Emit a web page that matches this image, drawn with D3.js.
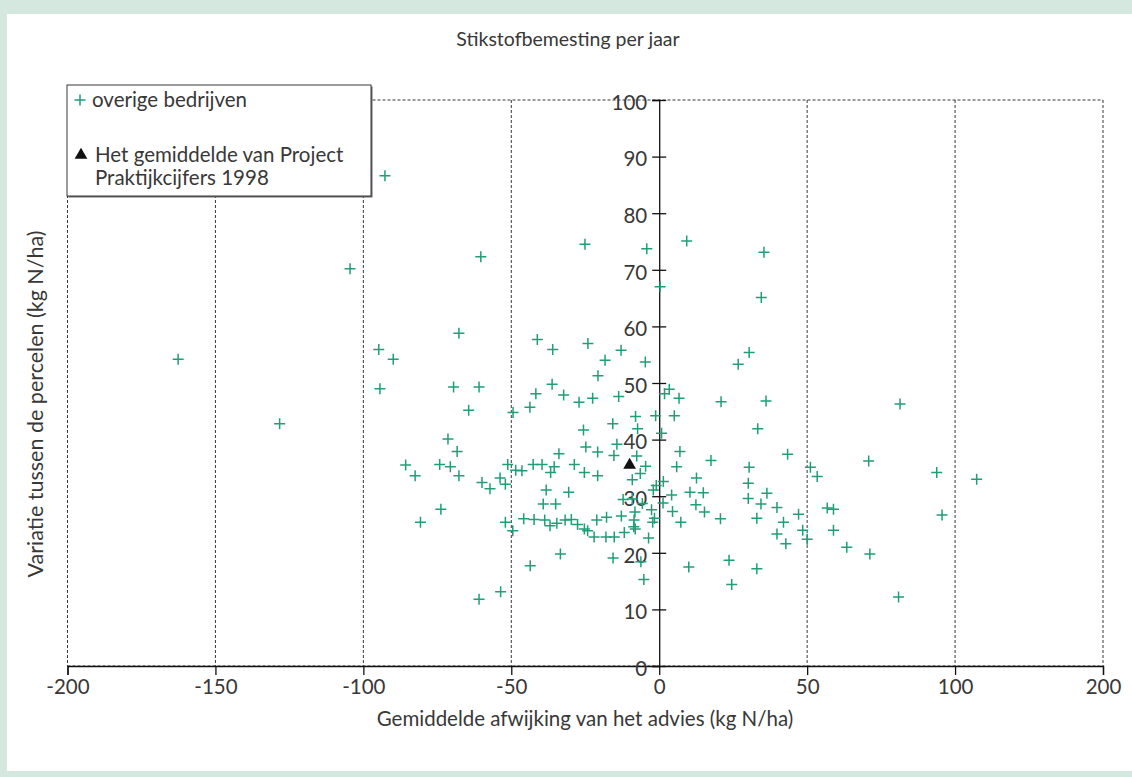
<!DOCTYPE html>
<html>
<head>
<meta charset="utf-8">
<script src="https://cdn.jsdelivr.net/npm/d3@7"></script>
<style>
    html, body { margin: 0; padding: 0; background: #d4e8e0; }
    svg { display: block; font-family: Lato, "Open Sans", sans-serif; font-weight: 400; }
</style>
</head>
<body>
<div id="chart"></div>
<script>
// overige bedrijven (x = afwijking van het advies, y = variatie tussen percelen)
const otherX = [
    -162.6, -128.3, -104.5, -92.7, -94.8, -89.9, -94.4, -67.7, -60.3, -41.2,
    -36.0, -69.5, -60.9, -36.2, -41.7, -64.4, -43.7, -49.4, -71.4, -68.3,
    -85.7, -82.5, -74.2, -70.6, -67.7, -51.2, -48.5, -46.4, -42.6, -39.6,
    -36.7, -35.5, -33.9, -53.8, -59.9, -57.2, -52.0, -38.2, -39.2, -35.0,
    -73.8, -80.7, -52.0, -49.5, -45.8, -42.3, -38.7, -36.9, -34.6, -33.4,
    -43.6, -53.6, -60.9, -24.1, -18.3, -12.9, -4.7, -20.7, -32.3, -27.1,
    -22.5, -13.7, 1.8, 3.4, 6.7, 20.9, -8.0, -1.2, 5.1, -25.6,
    -15.7, -7.3, 0.8, -24.8, -20.8, -14.3, -15.3, -7.6, 7.0, 17.5,
    -28.7, -25.3, -20.8, -4.6, 5.9, -6.4, -9.1, 12.6, 1.4, -1.0,
    -2.0, -30.6, 4.2, 10.4, 14.9, -12.2, -9.1, -5.7, 1.3, 12.4,
    -8.2, -2.6, 4.5, 15.3, 20.7, -1.6, -17.8, -12.8, -21.1, -8.5,
    7.3, -2.2, -31.8, -29.7, -27.6, -25.3, -24.2, -22.0, -18.0, -15.2,
    -11.8, -8.6, -8.1, -3.6, -15.6, -6.2, 10.0, -5.2, -25.1, -4.2,
    9.3, 0.3, 35.4, 34.5, 30.4, 26.7, 36.1, 81.4, 33.3, 43.4,
    30.4, 51.1, 53.4, 70.8, 93.8, 107.3, 30.1, 36.4, 30.1, 34.4,
    39.8, 33.0, 42.0, 47.1, 56.8, 58.9, 48.5, 58.9, 50.0, 39.8,
    42.8, 63.4, 71.2, 95.6, 23.6, 33.0, 24.5, 80.9
];
const otherY = [
    54.2, 42.8, 70.2, 86.6, 55.9, 54.2, 49.0, 58.8, 72.3, 57.7,
    55.9, 49.3, 49.3, 49.8, 48.1, 45.2, 45.7, 44.8, 40.1, 37.9,
    35.5, 33.6, 35.6, 35.2, 33.6, 35.6, 34.6, 34.5, 35.6, 35.6,
    34.2, 35.2, 37.5, 33.2, 32.4, 31.3, 32.1, 31.1, 28.6, 28.6,
    27.7, 25.4, 25.4, 23.9, 26.0, 25.9, 25.8, 24.8, 25.2, 19.8,
    17.7, 13.1, 11.8, 57.0, 54.0, 55.8, 53.7, 51.3, 47.9, 46.6,
    47.3, 47.6, 48.1, 48.9, 47.3, 46.7, 44.1, 44.2, 44.2, 41.7,
    42.8, 41.9, 41.1, 38.7, 37.8, 39.2, 37.2, 37.1, 37.9, 36.3,
    35.6, 34.2, 33.6, 35.3, 35.2, 34.0, 32.9, 33.2, 32.6, 31.9,
    31.1, 30.7, 30.2, 30.7, 30.6, 29.4, 29.5, 28.7, 28.8, 28.5,
    27.2, 27.6, 27.3, 27.2, 26.0, 26.1, 26.3, 26.5, 25.8, 25.8,
    25.4, 25.4, 25.8, 25.9, 25.0, 24.2, 23.9, 22.8, 22.8, 22.8,
    23.6, 24.6, 24.2, 22.6, 19.1, 18.4, 17.5, 15.3, 74.5, 73.7,
    75.1, 67.0, 73.1, 65.1, 55.4, 53.3, 46.8, 46.3, 41.9, 37.4,
    35.1, 35.1, 33.5, 36.2, 34.2, 33.0, 32.3, 30.5, 29.6, 28.6,
    28.0, 26.1, 25.4, 26.8, 27.9, 27.7, 24.0, 24.0, 22.4, 23.3,
    21.6, 21.0, 19.8, 26.7, 18.7, 17.2, 14.4, 12.2
];

// Het gemiddelde van Project Praktijkcijfers 1998
const meanX = [-10.0];
const meanY = [35.5];

const xTickValues = [-200, -150, -100, -50, 0, 50, 100, 150];
const xTickLabels = ["-200", "-150", "-100", "-50", "0", "50", "100", "200"];
const yTickValues = [0, 10, 20, 30, 40, 50, 60, 70, 80, 90, 100];

const width = 1132, height = 777;
const green = '#1f9e78';
const ink = '#383838';
const fontSize = '20.5px';

const svg = d3.select('#chart')
    .append('svg')
    .attr('width', width)
    .attr('height', height);

// white panel on the green page
svg.append('rect')
    .attr('x', 7).attr('y', 14)
    .attr('width', width - 7).attr('height', 757)
    .attr('fill', '#fff');

const x = d3.scaleLinear().domain([-200, 150]).range([67.5, 1103]);
const y = d3.scaleLinear().domain([0, 100]).range([666, 100]);

// dashed frame + vertical grid
const grid = svg.append('g')
    .attr('stroke', ink)
    .attr('stroke-width', 1)
    .attr('stroke-dasharray', '3,2');

grid.selectAll('line.v')
    .data(xTickValues.filter(d => d !== 0))
    .enter()
    .append('line')
    .attr('x1', d => x(d)).attr('x2', d => x(d))
    .attr('y1', y(100)).attr('y2', y(0));

grid.selectAll('line.h')
    .data([0, 100])
    .enter()
    .append('line')
    .attr('x1', x(-200)).attr('x2', x(150))
    .attr('y1', d => y(d)).attr('y2', d => y(d));

// x axis along y = 0
const xAxis = svg.append('g')
    .attr('transform', `translate(0,${y(0)})`)
    .call(d3.axisBottom(x)
        .tickValues(xTickValues)
        .tickFormat((d, i) => xTickLabels[i])
        .tickSize(9)
        .tickPadding(4));

// y axis along x = 0
const yAxis = svg.append('g')
    .attr('transform', `translate(${x(0)},0)`)
    .call(d3.axisLeft(y)
        .tickValues(yTickValues)
        .tickSize(7)
        .tickPadding(5));

yAxis.selectAll('.tick line').attr('x2', 7).attr('x1', -7);

[xAxis, yAxis].forEach(ax => {
    ax.select('.domain').attr('stroke', '#111').attr('stroke-width', 1.3);
    ax.selectAll('.tick line').attr('stroke', '#111').attr('stroke-width', 1.3);
    ax.selectAll('.tick text')
        .attr('fill', ink)
        .style('font-size', fontSize)
        .style('font-family', 'Lato, "Open Sans", sans-serif')
        .style('font-weight', 400);
});
yAxis.selectAll('.tick text').attr('dy', '0.45em');

// points
svg.append('g')
    .selectAll('path')
    .data(otherX.map((d, i) => [d, otherY[i]]))
    .enter()
    .append('path')
    .attr('transform', d => `translate(${x(d[0])},${y(d[1])})`)
    .attr('d', 'M-5.5,0H5.5M0,-5.5V5.5')
    .attr('stroke', green)
    .attr('stroke-width', 1.5)
    .attr('fill', 'none');

svg.append('g')
    .selectAll('path')
    .data(meanX.map((d, i) => [d, meanY[i]]))
    .enter()
    .append('path')
    .attr('transform', d => `translate(${x(d[0])},${y(d[1])})`)
    .attr('d', d3.symbol().type(d3.symbolTriangle).size(70))
    .attr('fill', '#111');

// legend
const legend = svg.append('g');
legend.append('rect')
    .attr('x', 68.5).attr('y', 86.5)
    .attr('width', 304).attr('height', 111)
    .attr('fill', '#666');
legend.append('rect')
    .attr('x', 67).attr('y', 85)
    .attr('width', 304).attr('height', 111)
    .attr('fill', '#fff')
    .attr('stroke', ink)
    .attr('stroke-width', 1);

legend.append('path')
    .attr('transform', 'translate(80,100)')
    .attr('d', 'M-5.5,0H5.5M0,-5.5V5.5')
    .attr('stroke', green)
    .attr('stroke-width', 1.5);
legend.append('text')
    .attr('x', 92).attr('y', 107)
    .attr('fill', ink)
    .style('font-size', fontSize)
    .text('overige bedrijven');

legend.append('path')
    .attr('transform', 'translate(81,155)')
    .attr('d', d3.symbol().type(d3.symbolTriangle).size(70))
    .attr('fill', '#111');
legend.append('text')
    .attr('x', 95).attr('y', 162)
    .attr('fill', ink)
    .style('font-size', fontSize)
    .text('Het gemiddelde van Project');
legend.append('text')
    .attr('x', 95).attr('y', 185)
    .attr('fill', ink)
    .style('font-size', fontSize)
    .text('Praktijkcijfers 1998');

// titles
svg.append('text')
    .attr('x', 568).attr('y', 46)
    .attr('text-anchor', 'middle')
    .attr('fill', ink)
    .style('font-size', '19.5px')
    .text('Stikstofbemesting per jaar');

svg.append('text')
    .attr('x', 585).attr('y', 726)
    .attr('text-anchor', 'middle')
    .attr('fill', ink)
    .style('font-size', fontSize)
    .text('Gemiddelde afwijking van het advies (kg N/ha)');

svg.append('text')
    .attr('transform', 'translate(43,404) rotate(-90)')
    .attr('text-anchor', 'middle')
    .attr('fill', ink)
    .style('font-size', '21.5px')
    .text('Variatie tussen de percelen (kg N/ha)');
</script>
</body>
</html>
